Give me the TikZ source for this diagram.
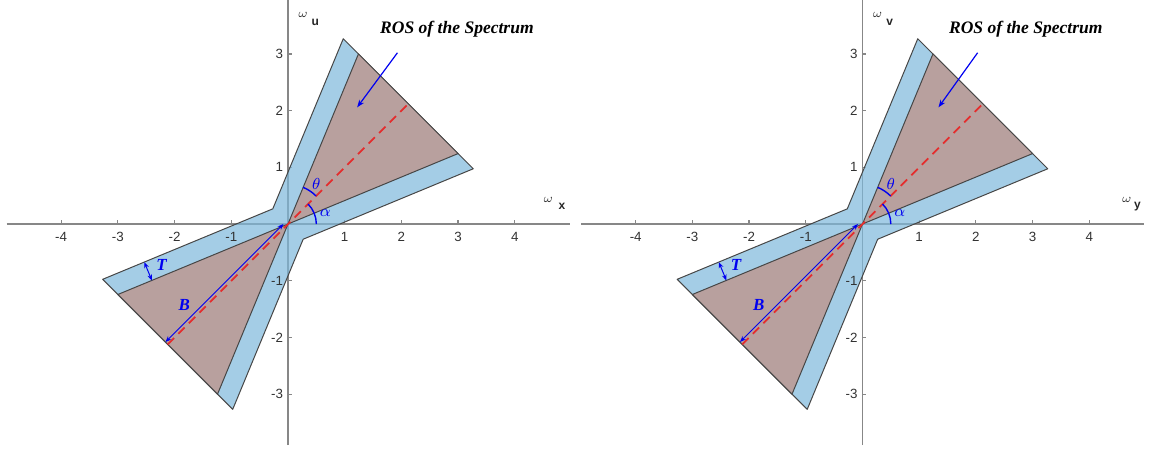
\documentclass[tikz,border=0pt]{standalone}
\usepackage{fontspec}
\setmainfont{Liberation Serif}
\setsansfont{Liberation Sans}
\usetikzlibrary{arrows.meta}
\definecolor{bandblue}{RGB}{126,184,219}
\definecolor{rosbrown}{RGB}{184,160,158}
\definecolor{edgegray}{RGB}{70,70,70}
\definecolor{axisgray}{RGB}{135,135,135}
\definecolor{ticktext}{RGB}{50,50,50}
\definecolor{dashred}{RGB}{228,45,45}
\definecolor{annblue}{RGB}{0,0,240}
\tikzset{
  axisline/.style={draw=axisgray, line width=0.6pt},
  ticklbl/.style={font=\sffamily\fontsize{6.7}{7}\selectfont, text=ticktext, inner sep=0pt},
  band/.style={fill=bandblue, fill opacity=0.7, draw=edgegray, line width=0.5pt, line join=round},
  cone/.style={fill=rosbrown, draw=edgegray, line width=0.5pt, line join=round},
  centerline/.style={draw=dashred, line width=0.9pt, dash pattern=on 4.5pt off 3pt},
  dblarrow/.style={draw=annblue, line width=0.5pt, {Stealth[length=3pt,width=2.4pt]}-{Stealth[length=3pt,width=2.4pt]}},
  rosarrow/.style={draw=annblue, line width=0.6pt, -{Stealth[length=3.8pt,width=2.8pt]}},
  angarc/.style={draw=annblue, line width=0.7pt},
  annlbl/.style={text=annblue, font=\fontsize{8.5}{9}\selectfont\bfseries\itshape, inner sep=0pt},
  mathlbl/.style={text=annblue, font=\fontsize{8}{9}\selectfont, inner sep=0pt},
  rostext/.style={font=\fontsize{8.8}{10}\selectfont\bfseries\itshape, text=black, inner sep=0pt},
  omegalbl/.style={font=\fontsize{6.5}{7}\selectfont, text=black!80, inner sep=0pt},
  sublbl/.style={font=\sffamily\bfseries\fontsize{6}{7}\selectfont, text=black!85, inner sep=0pt}
}
\newcommand{\rospanel}[9]{%
\begin{scope}[xshift=#1cm, name prefix=#2-]
  % axes
  \coordinate (xl) at (-4.96,0); \coordinate (xr) at (4.97,0);
  \coordinate (yb) at (0,-3.9);  \coordinate (yt) at (0,3.96);
  \draw[axisline] (xl) -- (xr);
  \draw[axisline] (yb) -- (yt);
  \foreach \i in {-4,-3,-2,-1,1,2,3,4} {
    \draw[axisline] (\i,0) -- (\i,0.07);
  }
  \foreach \i in {-3,-2,-1,1,2,3} {
    \draw[axisline] (0,\i) -- (0.07,\i);
  }
  % geometry
  \coordinate (O)   at (0,0);
  \coordinate (Q2)  at (0.9747,3.2679);
  \coordinate (P2)  at (1.2426,3.0);
  \coordinate (P1)  at (3.0,1.2426);
  \coordinate (Q1)  at (3.2679,0.9747);
  \coordinate (Klr) at (0.2679,-0.2679);
  \coordinate (Q4)  at (-0.9747,-3.2679);
  \coordinate (P4)  at (-1.2426,-3.0);
  \coordinate (P3)  at (-3.0,-1.2426);
  \coordinate (Q3)  at (-3.2679,-0.9747);
  \coordinate (Kul) at (-0.2679,0.2679);
  \path[band] (Q2) -- (P2) -- (P1) -- (Q1) -- (Klr) -- (Q4) -- (P4) -- (P3) -- (Q3) -- (Kul) -- cycle;
  \path[cone] (O) -- (P1) -- (P2) -- cycle;
  \path[cone] (O) -- (P3) -- (P4) -- cycle;
  % tick labels on top
  \foreach \i in {-4,-3,-2,-1,1,2,3,4} {
    \node[ticklbl] (xt\i) at (\i,-0.225) {\i};
  }
  \foreach \i in {-3,-2,-1,1,2,3} {
    \node[ticklbl, anchor=east] (ytl\i) at (-0.08,\i) {\i};
  }
  % centre line
  \coordinate (Cm) at (-2.1213,-2.1213);
  \coordinate (Cp) at (2.1213,2.1213);
  \draw[centerline] (Cm) -- (Cp);
  % B
  \coordinate (B1) at (-0.08,0.0);
  \coordinate (B2) at (-2.16,-2.08);
  \draw[dblarrow] (B1) -- (B2);
  \node[annlbl] (Blbl) at (-1.83,-1.43) {B};
  % T
  \coordinate (T1) at (-2.534,-0.672);
  \coordinate (T2) at (-2.400,-0.995);
  \draw[dblarrow] (T1) -- (T2);
  \node[annlbl] (Tlbl) at (-2.23,-0.72) {T};
  % angles
  \draw[angarc] (45:0.7) arc[start angle=45, end angle=67.5, radius=0.7];
  \draw[angarc] (0:0.5) arc[start angle=0, end angle=45, radius=0.5];
  \node[mathlbl] (th) at (0.50,0.70) {$\theta$};
  \node[mathlbl] (al) at (0.66,0.20) {$\alpha$};
  % ROS label
  \node[rostext] (ros) at (#5,3.43) {ROS of the Spectrum};
  \coordinate (rA) at (#6,3.02);
  \coordinate (rB) at (#7,2.058);
  \draw[rosarrow] (rA) -- (rB);
  % axis labels
  \node[omegalbl] (wv) at (0.265,3.68) {$\omega$};
  \node[sublbl] (sv) at (0.48,3.55) {#3};
  \node[omegalbl] (wh) at (#8,0.42) {$\omega$};
  \node[sublbl] (sh) at (#9,0.31) {#4};
\end{scope}}
\begin{document}
\begin{tikzpicture}
\useasboundingbox (-5.079,-4.021) rectangle (15.238,3.951);
\rospanel{0}{L}{u}{x}{2.98}{1.93}{1.22}{4.59}{4.83}
\rospanel{10.132}{R}{v}{y}{2.88}{2.03}{1.34}{4.66}{4.85}
\end{tikzpicture}
\end{document}
